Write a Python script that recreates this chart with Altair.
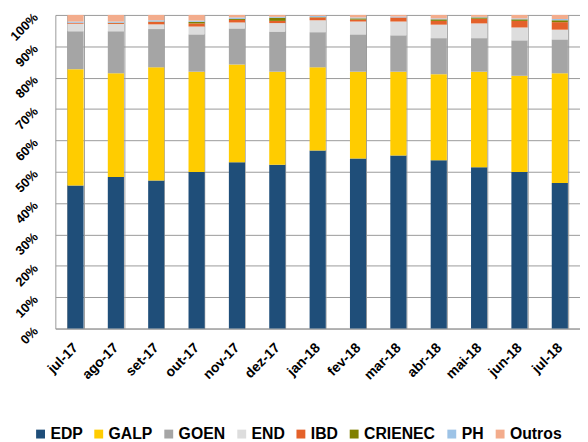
import altair as alt
import pandas as pd

months = ["jul-17", "ago-17", "set-17", "out-17", "nov-17", "dez-17", "jan-18",
          "fev-18", "mar-18", "abr-18", "mai-18", "jun-18", "jul-18"]
series = ["EDP", "GALP", "GOEN", "END", "IBD", "CRIENEC", "PH", "Outros"]
colors = ["#1F4E79", "#FFCC00", "#A5A5A5", "#DDDDDD", "#E4612A", "#808000", "#9DC3E6", "#F3AC8C"]

EDP = [45.6, 48.3, 47.2, 49.9, 53.0, 52.2, 56.8, 54.2, 55.2, 53.7, 51.4, 49.9, 46.4]
GALP = [37.1, 33.1, 36.1, 32.0, 31.2, 29.7, 26.5, 27.7, 26.7, 27.4, 30.5, 30.7, 35.0]
GOEN = [12.1, 13.4, 12.2, 11.9, 11.5, 12.8, 11.2, 11.9, 11.6, 11.5, 10.7, 11.3, 10.8]
END = [2.4, 2.3, 1.5, 2.5, 1.9, 2.7, 3.8, 4.1, 4.4, 4.3, 4.7, 4.1, 3.1]
IBD = [0.3, 0.3, 0.8, 1.0, 0.8, 0.7, 0.9, 0.6, 1.3, 1.2, 1.5, 2.1, 2.4]
CRIENEC = [0.0, 0.1, 0.1, 0.5, 0.3, 1.0, 0.1, 0.4, 0.0, 0.5, 0.4, 0.5, 0.6]
PH = [0.4, 0.4, 0.4, 0.4, 0.5, 0.3, 0.4, 0.3, 0.3, 0.3, 0.2, 0.3, 0.4]
Outros = [2.1, 2.1, 1.7, 1.8, 0.8, 0.6, 0.3, 0.8, 0.5, 1.1, 0.6, 1.1, 1.3]

values = [EDP, GALP, GOEN, END, IBD, CRIENEC, PH, Outros]
rows = []
for si, (name, vals) in enumerate(zip(series, values)):
    for m, v in zip(months, vals):
        rows.append({"mes": m, "serie": name, "valor": v, "ord": si})
df = pd.DataFrame(rows)

FONT = "Liberation Sans"

chart = alt.Chart(df).mark_bar().encode(
    x=alt.X("mes:N", sort=months,
            scale=alt.Scale(paddingInner=0.6, paddingOuter=0.3),
            axis=alt.Axis(title=None, labelAngle=315, labelAlign="right", labelBaseline="middle",
                          labelPadding=17, labelFontSize=14, labelFontWeight="bold",
                          labelFont=FONT, labelColor="#000000", ticks=False, labelOverlap=False,
                          grid=True, tickBand="extent", gridColor="#999999", gridWidth=1,
                          domainColor="#999999", domainWidth=1)),
    y=alt.Y("valor:Q", stack="normalize",
            scale=alt.Scale(domain=[0, 1]),
            axis=alt.Axis(title=None, format=".0%", values=[i / 10 for i in range(11)],
                          labelAngle=315, labelAlign="right", labelBaseline="middle",
                          labelPadding=20, labelFontSize=13, labelFontWeight="bold",
                          labelFont=FONT, labelColor="#000000", ticks=False, labelOverlap=False,
                          grid=True, gridColor="#999999", gridWidth=1,
                          domainColor="#999999", domainWidth=1)),
    color=alt.Color("serie:N", sort=series,
                    scale=alt.Scale(domain=series, range=colors),
                    legend=alt.Legend(title=None, orient="none", direction="horizontal",
                                      legendX=-23, legendY=417,
                                      symbolType="square",
                                      symbolSize=81, symbolStrokeWidth=0,
                                      labelFont=FONT, labelFontSize=16, labelFontWeight="bold",
                                      labelColor="#000000", labelOffset=2, columnPadding=8)),
    order=alt.Order("ord:Q", sort="ascending"),
).properties(
    width=532, height=318,
    autosize=alt.AutoSizeParams(type="none"),
    padding={"left": 48, "right": 0, "top": 4, "bottom": 112},
).configure_view(strokeWidth=0)

chart.save("out.html", embed_options={"renderer": "svg", "actions": False})
